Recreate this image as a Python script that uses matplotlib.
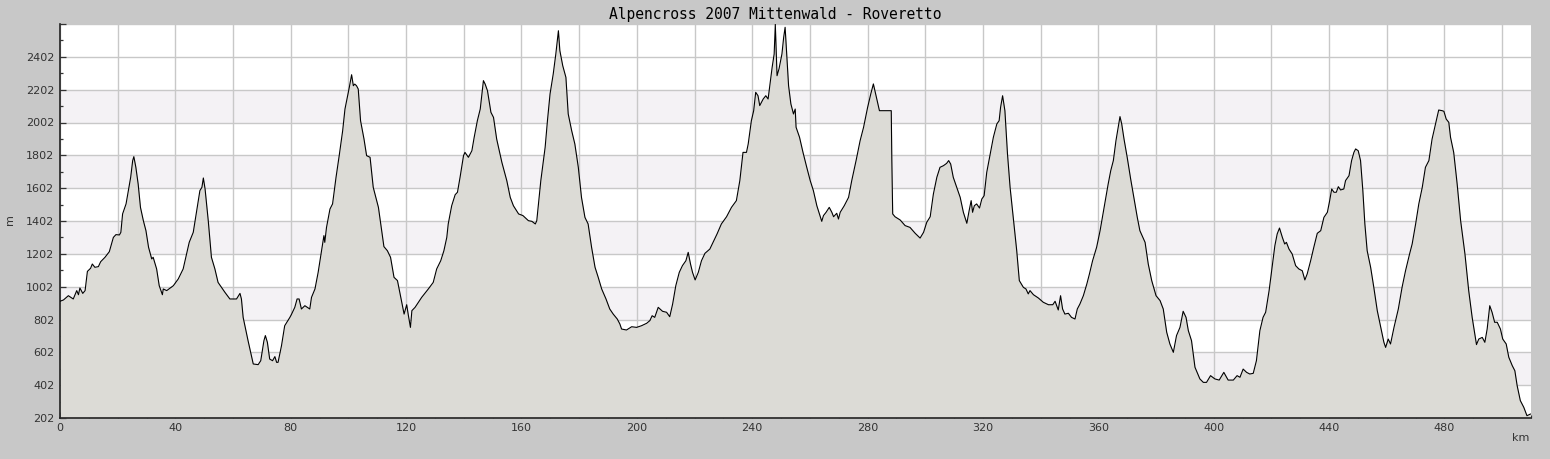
import matplotlib
matplotlib.use('Agg')
import matplotlib.pyplot as plt
from matplotlib.ticker import MultipleLocator, FixedLocator

# Höhenprofil (km, m)
km = [0.0, 1.2, 2.9, 4.6, 5.8, 6.4, 6.9, 7.9, 8.7, 9.5, 10.6, 11.2, 12.1, 13.3, 14.1,
      15.6, 17.1, 18.5, 19.4, 20.6, 21.1, 21.7, 22.9, 23.7, 24.5, 25.2, 25.6, 26.3,
      27.1, 27.9, 28.9, 29.8, 30.7, 31.8, 32.3, 33.5, 34.4, 35.5, 35.8, 37.0, 39.3,
      41.0, 42.7, 43.9, 44.8, 46.2, 47.3, 48.5, 49.2, 49.7, 50.3, 51.4, 52.5, 53.7,
      54.8, 56.0, 57.2, 58.9, 61.2, 62.4, 62.9, 63.5, 65.2, 67.0, 68.7, 69.6, 70.7,
      71.2, 71.9, 72.7, 73.7, 74.5, 75.1, 75.6, 76.8, 77.9, 79.7, 80.3, 81.4, 82.2,
      82.9, 83.7, 84.9, 86.6,
      87.2, 88.4, 89.5, 90.7, 91.5, 91.8, 92.4, 93.6, 94.5, 95.7, 96.8, 98.0, 98.8,
      100.3, 101.1, 101.7, 102.2, 102.8, 103.4, 104.2, 105.4, 106.3, 107.5, 108.6,
      110.4, 111.2, 112.3, 113.5, 114.6, 115.8, 117.0, 117.9, 119.3, 120.2, 120.8,
      121.5, 122.0, 123.1, 125.4, 127.7, 129.4, 130.6, 132.0, 133.1, 134.1, 134.6,
      135.8, 137.0, 137.8, 138.7, 139.9, 140.4, 141.6, 142.8, 143.6, 144.7, 145.7,
      146.8, 147.4, 148.2, 149.4, 150.3, 151.4, 153.2, 154.9, 156.1, 157.2, 159.0,
      160.5, 162.4, 163.6, 164.8, 165.3, 165.9, 166.7, 168.2, 169.0, 169.9,
      171.0, 171.9, 172.8, 173.3, 174.3, 175.4, 176.2, 177.4, 178.5, 179.7, 180.8,
      182.0, 183.1, 184.3, 185.5, 186.6, 187.8, 189.3, 190.6, 191.8, 193.2, 194.1,
      194.7, 196.4, 198.2, 199.9, 201.6, 203.4, 204.5, 205.3, 206.2, 207.4, 208.9,
      210.3, 211.4, 212.4, 213.5, 214.7, 215.8, 217.0, 217.8, 218.6, 219.3, 220.2,
      221.3, 222.4, 223.6, 225.3, 226.4, 227.8, 229.3, 231.1, 232.8, 234.5, 235.7,
      236.8, 238.0, 238.6, 239.7, 240.5, 241.2, 242.0, 242.6, 243.8, 244.7, 245.5,
      246.1, 246.9, 247.6, 248.0, 248.6, 249.3, 250.3, 250.9, 251.4, 252.0, 252.6,
      253.4, 254.3, 254.9, 255.2, 256.4, 257.6, 258.9, 260.1, 261.2, 262.4, 263.3,
      264.1, 264.7, 265.6, 266.7, 267.6, 268.2, 269.3, 269.9, 270.5, 271.9, 273.4,
      274.5, 276.0, 277.4, 278.6, 280.0, 281.1, 282.0, 283.2, 284.1, 288.2, 288.4,
      288.7, 289.5, 291.3, 293.0, 294.7, 296.5, 298.2, 299.4, 300.5, 301.7, 302.8,
      304.0, 305.1, 306.3, 307.4, 308.1, 308.8, 309.7, 310.9, 312.1, 313.2, 314.4,
      315.2, 315.9, 316.4, 317.0, 317.8, 318.8, 319.6, 320.4, 321.3, 322.5, 323.6,
      324.8, 325.6, 326.1, 326.8, 327.6, 328.5, 329.4, 330.5, 331.7, 332.6,
      334.0, 334.9, 335.7, 336.3, 337.5, 339.2, 340.9, 342.7, 344.2, 345.0, 346.1,
      346.9, 347.6, 348.4, 349.6, 350.7, 351.9, 352.7, 353.6, 354.8, 356.0, 356.9,
      358.0, 359.4, 360.6, 361.5, 362.6, 363.4, 364.3, 365.2, 366.1, 366.9, 367.5,
      368.1, 368.9, 370.0, 371.2, 372.3, 373.5, 374.4, 376.2, 377.3, 378.5, 380.0,
      381.4, 382.5, 383.7, 384.8, 386.0, 387.1, 388.3, 389.4, 390.4, 391.2, 392.3,
      393.5, 395.2, 396.4, 397.5, 398.9, 400.4, 401.9, 403.5, 405.0, 406.8, 408.1,
      409.1, 410.2, 411.4, 412.5, 413.7, 414.8, 416.0, 417.1,
      418.0, 419.2, 420.1, 421.2, 422.0, 422.8, 423.8, 424.6, 425.2, 426.1, 427.2,
      428.4, 429.5, 430.7, 431.6, 432.4, 433.6, 434.7, 435.9, 437.1, 438.2, 439.4,
      440.2, 440.9, 441.7, 442.5, 443.2, 444.0, 445.1, 445.7, 446.9, 447.8, 448.6,
      449.2, 450.1, 450.9, 451.7, 452.4, 453.2, 454.4, 455.5, 456.7, 457.8, 459.0,
      459.6, 460.5, 461.3, 462.5, 464.0, 465.3, 466.5, 467.9, 468.8, 470.0, 471.1,
      472.3, 473.4, 474.6, 475.7, 476.9, 478.0, 479.2, 479.8, 480.6, 481.5, 482.1,
      483.2, 484.4, 485.6, 487.1, 488.4, 489.6, 491.1, 491.9, 493.1, 494.0, 494.8,
      495.7, 496.5, 497.4, 498.3, 499.4, 500.2, 501.4, 502.3, 503.5, 504.4, 505.2,
      506.3, 507.5, 508.6, 509.8]

hoehe = [913, 921, 947, 927, 978, 953, 994, 961, 978, 1095, 1114, 1140, 1120, 1124, 1154,
         1181, 1215, 1302, 1319, 1317, 1333, 1445, 1506, 1587, 1668, 1770, 1794, 1729,
         1627, 1485, 1404, 1343, 1242, 1171, 1181, 1110, 1008, 953, 988, 978, 1008,
         1049, 1110, 1201, 1272, 1333, 1455, 1587, 1607, 1664, 1597, 1404, 1181, 1110,
         1028, 998, 967, 927, 927, 961, 927, 815, 673, 531, 527, 551, 673,
         704, 663, 561, 551, 576, 541, 541, 643, 764, 815, 835, 876, 927,
         927, 866, 886, 866,
         937, 988, 1089, 1221, 1313, 1272, 1363, 1475, 1506, 1668, 1800, 1952, 2084,
         2216, 2293, 2226, 2236, 2226, 2206, 2013, 1901, 1800, 1790, 1607,
         1485, 1384, 1246, 1221, 1181, 1059, 1039, 958, 835, 892, 825,
         754, 856, 876, 937, 988, 1028, 1110, 1160, 1221, 1302, 1384,
         1495, 1562, 1577, 1668, 1800, 1820, 1790, 1830, 1912, 2013, 2084,
         2257, 2236, 2196, 2064, 2033, 1901, 1759, 1648, 1546, 1495, 1445,
         1435, 1404, 1400, 1384, 1404, 1506, 1648, 1851, 2013, 2176,
         2297, 2419, 2561, 2440, 2348, 2277, 2054, 1952, 1871, 1729, 1546,
         1424, 1384, 1242, 1120, 1059, 988, 927, 866, 835, 805, 775,
         744, 738, 758, 754, 764, 779, 795, 825, 815, 876, 852,
         846, 819, 896, 1008, 1089, 1130, 1160, 1211, 1140, 1089, 1043,
         1089, 1160, 1205, 1231, 1272, 1323, 1384, 1428, 1485, 1526, 1648,
         1820, 1820, 1871, 2013, 2074, 2186, 2165, 2105, 2145, 2165, 2145,
         2226, 2338, 2419, 2600, 2287, 2330, 2420, 2521, 2582, 2409, 2226,
         2115, 2054, 2084, 1973, 1912, 1820, 1729, 1648, 1587, 1495, 1445,
         1400, 1435, 1455, 1485, 1455, 1428, 1449, 1414, 1455, 1495, 1546,
         1648, 1770, 1891, 1973, 2094, 2176, 2237, 2145, 2074, 2074, 1770,
         1445, 1428, 1408, 1374, 1363, 1327, 1298, 1333, 1394, 1428, 1566,
         1668, 1729, 1739, 1753, 1770, 1749, 1668, 1607, 1546, 1455, 1388,
         1465, 1526, 1455, 1495, 1506, 1481, 1536, 1556, 1698, 1810, 1912,
         1993, 2013, 2094, 2165, 2074, 1810, 1607, 1424, 1221, 1039,
         998, 988, 958, 978, 953, 933, 907, 892, 892, 913, 860,
         947, 866, 835, 840, 815, 805, 866, 896, 947, 1018, 1079,
         1160, 1242, 1343, 1434, 1546, 1627, 1709, 1770, 1891, 1973, 2038,
         1993, 1901, 1790, 1658, 1546, 1424, 1343, 1272, 1140, 1039, 947,
         917, 866, 724, 653, 602, 704, 754, 852, 815, 734, 673,
         511, 440, 419, 419, 460, 440, 433, 480, 433, 433, 460,
         450, 500, 480, 470, 474, 551, 734, 815,
         846, 978, 1099, 1252, 1323, 1359, 1302, 1262, 1272, 1231, 1201,
         1130, 1110, 1099, 1043, 1079, 1160, 1242, 1327, 1343, 1424, 1455,
         1526, 1597, 1577, 1577, 1611, 1591, 1597, 1648, 1678, 1770, 1820,
         1841, 1830, 1770, 1587, 1384, 1221, 1120, 998, 856, 764, 663,
         632, 683, 653, 754, 866, 998, 1099, 1201, 1262, 1384, 1506,
         1607, 1729, 1770, 1901, 1993, 2078, 2074, 2070, 2023, 2003, 1912,
         1820, 1627, 1404, 1201, 978, 815, 649, 683, 693, 663, 744,
         886, 846, 785, 785, 744, 683, 653, 572, 521, 490, 399,
         308, 267, 216, 226]

y_min, y_max = 202, 2602
baender = [(402, 602), (802, 1002), (1202, 1402), (1602, 1802), (2002, 2202)]
x_labels = [0, 40, 80, 120, 160, 200, 240, 280, 320, 360, 400, 440, 480]

fig = plt.figure(figsize=(15.5, 4.59), dpi=100, facecolor='#c8c8c8')
ax = fig.add_axes([60/1550, 41/459, 1471/1550, 394/459])
ax.set_facecolor('white')

for lo, hi in baender:
    ax.axhspan(lo, hi, color='#f4f2f5', lw=0, zorder=0.1)

ax.set_axisbelow(True)
ax.grid(True, which='major', color='#c8c8c8', lw=1)

ax.fill_between(km, hoehe, y_min, color='#dcdbd6', lw=0, zorder=2)
ax.plot(km, hoehe, color='black', lw=0.8, zorder=3)

ax.set_xlim(0, 510)
ax.set_ylim(y_min, y_max)

ax.xaxis.set_major_locator(MultipleLocator(20))
ax.xaxis.set_minor_locator(MultipleLocator(10))
ax.set_xticklabels([])
ax.yaxis.set_major_locator(FixedLocator(list(range(202, 2603, 200))))
ax.yaxis.set_minor_locator(FixedLocator(list(range(302, 2603, 200))))
ax.set_yticklabels([str(v) if v < 2602 else '' for v in range(202, 2603, 200)])

ax.tick_params(which='major', direction='in', length=4, width=0.9, colors='#333333',
               labelsize=8, pad=4)
ax.tick_params(which='minor', direction='in', length=2.5, width=0.9, colors='#333333')

# x-Beschriftung nur alle 40 km
for v in x_labels:
    ax.text(v, -0.012, str(v), transform=ax.get_xaxis_transform(), ha='center',
            va='top', fontsize=8, color='#333333')

for s in ['top', 'right']:
    ax.spines[s].set_visible(False)
for s in ['left', 'bottom']:
    ax.spines[s].set_color('#222222')
    ax.spines[s].set_linewidth(1.2)

fig.text(0.5, 1 - 14/459, 'Alpencross 2007 Mittenwald - Roveretto', ha='center',
         va='center', family='DejaVu Sans Mono', fontsize=10.5)
fig.text(10/1550, 1 - 220/459, 'm', rotation=90, ha='center', va='center',
         fontsize=8, color='#333333')
fig.text(1521/1550, 1 - 438/459, 'km', ha='center', va='center',
         fontsize=8, color='#333333')

fig.savefig('out.png', dpi=100, facecolor=fig.get_facecolor())
